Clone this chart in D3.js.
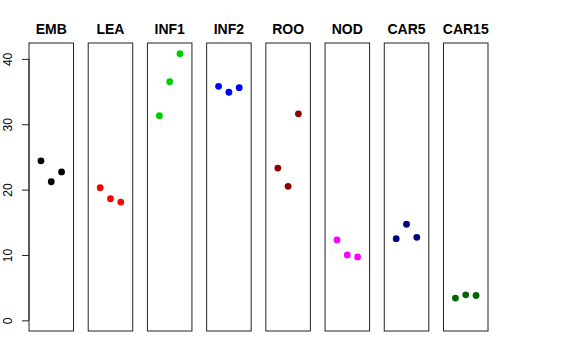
<!DOCTYPE html>
<meta charset="utf-8">
<script src="https://d3js.org/d3.v7.min.js"></script>
<style>
  body { margin: 0; background: #fff; }
  svg text { font-family: "Liberation Sans", Arial, sans-serif; }
</style>
<div id="chart"></div>
<script>
  // groups and their three replicate values
  var groups = ["EMB", "LEA", "INF1", "INF2", "ROO", "NOD", "CAR5", "CAR15"];
  var colors = ["#000000", "#FF0000", "#00CD00", "#0000FF", "#8B0000", "#FF00FF", "#000080", "#006400"];
  var rep1 = [24.4, 20.3, 31.3, 35.8, 23.3, 12.3, 12.5, 3.4];
  var rep2 = [21.2, 18.6, 36.5, 34.9, 20.5, 10.0, 14.7, 3.9];
  var rep3 = [22.7, 18.1, 40.8, 35.6, 31.6, 9.7, 12.7, 3.8];
  var yTicks = [0, 10, 20, 30, 40];

  var width = 576, height = 360;
  var plotTop = 43, plotBottom = 331, plotLeft = 29, plotRight = 488;

  var svg = d3.select("#chart").append("svg")
    .attr("width", width)
    .attr("height", height);

  var panel = d3.scaleBand()
    .domain(groups)
    .range([plotLeft, plotRight])
    .paddingInner(0.248)
    .paddingOuter(0);

  // y limits padded by 4% like R
  var ymin = 0, ymax = 40.8, pad = (ymax - ymin) * 0.04;
  var y = d3.scaleLinear()
    .domain([ymin - pad, ymax + pad])
    .range([plotBottom, plotTop]);

  var x = d3.scaleLinear()
    .domain([-0.16, 4.16])
    .range([0, panel.bandwidth()]);

  var rows = groups.map(function (g, i) {
    return { name: g, color: colors[i], values: [rep1[i], rep2[i], rep3[i]] };
  });

  var p = svg.selectAll(".panel")
    .data(rows)
    .enter()
    .append("g")
    .attr("class", "panel")
    .attr("transform", function (d) { return "translate(" + panel(d.name) + ",0)"; });

  p.append("rect")
    .attr("x", 0)
    .attr("y", plotTop)
    .attr("width", panel.bandwidth())
    .attr("height", plotBottom - plotTop)
    .attr("fill", "none")
    .attr("stroke", "#222")
    .attr("stroke-width", 1);

  p.append("text")
    .attr("x", panel.bandwidth() / 2)
    .attr("y", 34)
    .attr("text-anchor", "middle")
    .style("font-weight", "bold")
    .style("font-size", "14px")
    .text(function (d) { return d.name; });

  p.selectAll("circle")
    .data(function (d) { return d.values.map(function (v, j) { return { v: v, j: j + 1, c: d.color }; }); })
    .enter()
    .append("circle")
    .attr("cx", function (d) { return x(d.j); })
    .attr("cy", function (d) { return y(d.v); })
    .attr("r", 3.4)
    .attr("fill", function (d) { return d.c; });

  // y axis on the first panel
  var axis = svg.append("g")
    .attr("transform", "translate(" + plotLeft + ",0)")
    .call(d3.axisLeft(y).tickValues(yTicks).tickSize(7).tickPadding(0).tickFormat(d3.format("d")));
  axis.select(".domain")
    .attr("d", "M0," + y(0) + "V" + y(40))
    .attr("stroke", "#222");
  axis.selectAll(".tick line").attr("stroke", "#222");
  axis.selectAll(".tick text")
    .attr("transform", "rotate(-90)")
    .attr("x", 0)
    .attr("y", -17)
    .attr("dy", 0)
    .attr("text-anchor", "middle")
    .style("font-family", "Liberation Sans, Arial, sans-serif")
    .style("font-size", "12px")
    .attr("fill", "#000");
</script>
